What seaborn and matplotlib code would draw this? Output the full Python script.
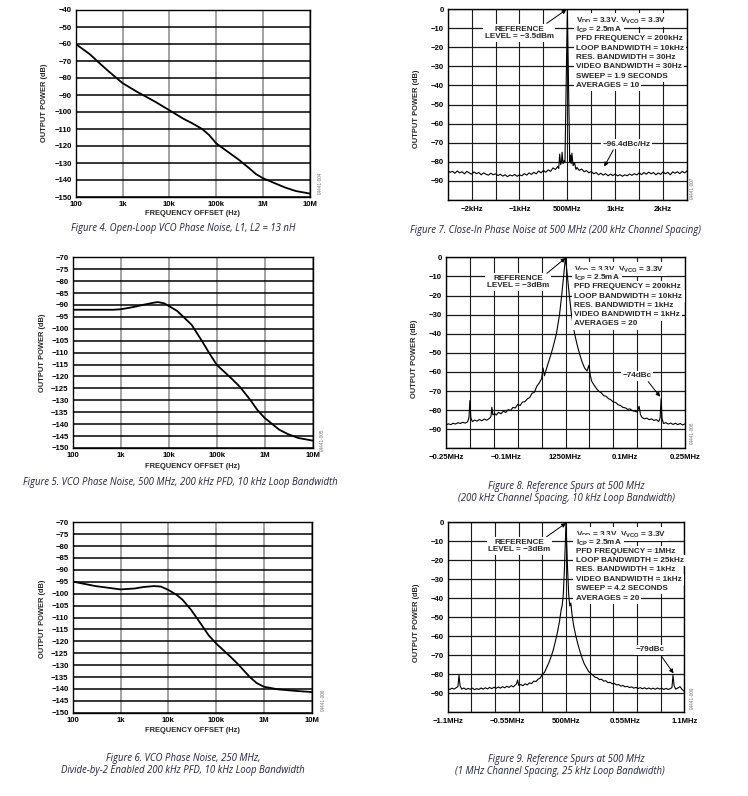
import numpy as np
import pandas as pd
import matplotlib
matplotlib.use("Agg")
import matplotlib.pyplot as plt
import matplotlib.ticker as mticker
import seaborn as sns

# ---------------- data ----------------
pn_tick_hz = [1e2, 1e3, 1e4, 1e5, 1e6, 1e7]
pn_tick_labels = ["100", "1k", "10k", "100k", "1M", "10M"]

# Figure 4: open-loop VCO phase noise
fig4_offset_hz = [100, 200, 300, 500, 1e3, 2e3, 5e3, 1e4, 2e4, 3e4, 5e4,
                  7e4, 1e5, 2e5, 3e5, 5e5, 7e5, 1e6, 2e6, 3e6, 5e6, 1e7]
fig4_level_db = [-60, -66, -70.5, -76, -83, -88, -94, -99, -104, -106.5, -110,
                 -113.5, -118.5, -124.5, -128, -133, -136.5, -139, -142.5, -144.5, -146.5, -148]

# Figure 5: VCO phase noise, 500 MHz
fig5_offset_hz = [100, 300, 700, 1e3, 1.5e3, 2e3, 3e3, 5e3, 6e3, 8e3, 1e4, 1.5e4,
                  2e4, 3e4, 5e4, 7e4, 1e5, 2e5, 3e5, 5e5, 7e5, 1e6, 2e6, 3e6, 5e6, 1e7]
fig5_level_db = [-92, -92, -92, -91.8, -91.2, -90.7, -89.9, -89.0, -88.8, -89.3, -90.4, -92.5,
                 -94.9, -98.3, -105.3, -110.2, -115.1, -120.7, -124.2, -129.8, -134.0, -137.4,
                 -142.3, -144.1, -145.8, -146.9]

# Figure 6: VCO phase noise, 250 MHz
fig6_offset_hz = [100, 300, 1e3, 2e3, 3e3, 5e3, 7e3, 1e4, 1.5e4, 2e4, 3e4,
                  5e4, 7e4, 1e5, 2e5, 3e5, 5e5, 7e5, 1e6, 2e6, 5e6, 1e7]
fig6_level_db = [-94.9, -96.8, -98.2, -97.8, -97.2, -96.8, -97.0, -98.4, -100.5, -102.6, -106.8,
                 -113.2, -117.5, -120.9, -126.5, -130.0, -134.9, -137.5, -139.1, -140.2, -140.9, -141.3]

# Figure 7: close-in phase noise (offset in kHz)
fig7_offset_khz = [
    -2.50, -2.45, -2.40, -2.35, -2.30, -2.25, -2.20, -2.15, -2.10, -2.05,
    -2.00, -1.95, -1.90, -1.85, -1.80, -1.75, -1.70, -1.65, -1.60, -1.55,
    -1.50, -1.45, -1.40, -1.35, -1.30, -1.25, -1.20, -1.15, -1.10, -1.05,
    -1.00, -0.95, -0.90, -0.85, -0.80, -0.75, -0.70, -0.65, -0.60, -0.55,
    -0.50, -0.45, -0.40, -0.35, -0.30, -0.25, -0.20,
    -0.18, -0.16, -0.14, -0.12, -0.11, -0.09, -0.07, -0.05, -0.025, 0.0,
    0.025, 0.05, 0.065, 0.08, 0.095, 0.12, 0.15, 0.18,
    0.20, 0.25, 0.30, 0.35, 0.40, 0.45, 0.50, 0.55, 0.60, 0.65,
    0.70, 0.75, 0.80, 0.85, 0.90, 0.95, 1.00, 1.05, 1.10, 1.15,
    1.20, 1.25, 1.30, 1.35, 1.40, 1.45, 1.50, 1.55, 1.60, 1.65,
    1.70, 1.75, 1.80, 1.85, 1.90, 1.95, 2.00, 2.05, 2.10, 2.15,
    2.20, 2.25, 2.30, 2.35, 2.40, 2.45, 2.50]
fig7_level_db = [
    -84.5, -85.5, -85.0, -86.0, -84.8, -85.8, -85.2, -86.3, -85.0, -85.8,
    -86.5, -85.3, -86.2, -85.6, -86.8, -85.8, -86.5, -87.0, -86.0, -86.8,
    -86.3, -87.2, -86.5, -87.5, -86.8, -87.8, -86.9, -87.4, -86.6, -87.6,
    -86.8, -87.3, -86.2, -87.0, -85.8, -86.6, -85.5, -86.3, -84.8, -85.8,
    -84.5, -85.5, -84.2, -85.0, -83.2, -84.0, -82.5,
    -83.5, -76.0, -81.5, -79.5, -75.0, -81.0, -79.5, -80.0, -40.0, 0.0,
    -40.0, -80.0, -76.5, -81.0, -75.5, -82.0, -80.5, -84.0,
    -83.0, -84.5, -83.8, -85.2, -84.6, -85.8, -85.0, -86.3, -85.6, -86.8,
    -86.0, -87.0, -86.2, -87.3, -86.5, -87.2, -86.4, -87.4, -86.7, -87.6,
    -86.8, -87.3, -86.4, -87.1, -86.2, -86.9, -85.8, -86.7, -85.6, -86.5,
    -85.4, -86.3, -85.6, -86.8, -85.8, -86.6, -85.2, -86.3, -85.5, -86.8,
    -85.3, -86.0, -85.2, -86.2, -85.0, -85.8, -84.8]

# Figure 8: reference spurs, 200 kHz spacing (offset in MHz)
fig8_offset_mhz = [
    -0.250, -0.245, -0.240, -0.235, -0.230, -0.225, -0.220, -0.215, -0.210, -0.205,
    -0.202, -0.200, -0.198, -0.195, -0.190, -0.185, -0.180, -0.175, -0.170, -0.165,
    -0.160, -0.156, -0.154, -0.152, -0.148, -0.145, -0.140, -0.135, -0.130, -0.125,
    -0.120, -0.115, -0.110, -0.105, -0.100, -0.095, -0.090, -0.085, -0.080, -0.075,
    -0.070, -0.065, -0.060, -0.055, -0.050, -0.047, -0.044, -0.040, -0.035, -0.030,
    -0.025, -0.019, -0.0125, -0.008, -0.004, 0.000,
    0.004, 0.008, 0.0125, 0.019, 0.025, 0.030, 0.035, 0.040, 0.045, 0.049,
    0.052, 0.055, 0.060, 0.065, 0.070, 0.075, 0.080, 0.085, 0.090, 0.095,
    0.100, 0.105, 0.110, 0.115, 0.120, 0.125, 0.130, 0.135, 0.140, 0.145,
    0.150, 0.154, 0.157, 0.160, 0.165, 0.170, 0.175, 0.180, 0.185, 0.190,
    0.195, 0.198, 0.200, 0.202, 0.205, 0.210, 0.215, 0.220, 0.225, 0.230,
    0.235, 0.240, 0.245, 0.250]
fig8_level_db = [
    -87.8, -87.2, -87.6, -86.9, -87.3, -86.6, -87.0, -86.4, -86.8, -86.2,
    -84.0, -75.0, -84.0, -86.0, -85.2, -85.8, -84.9, -85.6, -84.7, -85.3,
    -84.5, -83.5, -78.5, -82.5, -81.8, -82.6, -81.2, -81.9, -80.6, -81.2,
    -79.8, -80.2, -78.6, -78.9, -77.0, -77.6, -75.8, -75.6, -74.2, -73.4,
    -71.2, -70.6, -67.5, -65.8, -63.5, -58.0, -62.0, -58.5, -54.5, -50.5,
    -46.0, -40.0, -30.0, -20.0, -10.0, 0.0,
    -10.0, -20.0, -30.0, -40.0, -46.5, -51.0, -55.0, -58.0, -59.5, -56.5,
    -62.0, -65.0, -67.0, -68.8, -70.2, -71.0, -72.4, -72.8, -74.0, -74.6,
    -75.8, -76.0, -77.2, -77.6, -78.6, -78.8, -79.6, -79.4, -80.3, -80.6,
    -81.0, -78.0, -82.5, -83.8, -84.6, -84.2, -85.0, -84.6, -85.4, -85.0,
    -86.0, -84.0, -74.0, -84.5, -87.0, -86.6, -87.3, -86.8, -87.5, -86.9,
    -87.6, -87.0, -87.8, -87.2]

# Figure 9: reference spurs, 1 MHz spacing (offset in MHz)
fig9_offset_mhz = [
    -1.100, -1.080, -1.060, -1.040, -1.020, -1.005, -0.995, -0.985, -0.970, -0.950,
    -0.930, -0.910, -0.890, -0.870, -0.850, -0.830, -0.810, -0.790, -0.770, -0.750,
    -0.730, -0.710, -0.690, -0.670, -0.650, -0.630, -0.610, -0.590, -0.570, -0.550,
    -0.530, -0.510, -0.490, -0.460, -0.450, -0.440, -0.420, -0.400, -0.380, -0.360,
    -0.340, -0.320, -0.300, -0.280, -0.260, -0.240, -0.220, -0.200, -0.180, -0.160,
    -0.140, -0.120, -0.100, -0.080, -0.060, -0.045, -0.035, -0.025, -0.015, -0.007,
    0.000,
    0.007, 0.015, 0.025, 0.035, 0.045, 0.055, 0.070, 0.090, 0.110, 0.130,
    0.150, 0.170, 0.190, 0.210, 0.230, 0.250, 0.270, 0.290, 0.310, 0.330,
    0.350, 0.370, 0.390, 0.410, 0.430, 0.450, 0.470, 0.490, 0.510, 0.530,
    0.550, 0.570, 0.590, 0.610, 0.630, 0.650, 0.670, 0.690, 0.710, 0.730,
    0.750, 0.770, 0.790, 0.810, 0.830, 0.850, 0.870, 0.890, 0.910, 0.930,
    0.950, 0.970, 0.985, 0.995, 1.005, 1.020, 1.040, 1.060, 1.080, 1.100]
fig9_level_db = [
    -87.5, -88.0, -87.3, -87.8, -87.0, -86.5, -80.5, -86.0, -87.8, -87.2,
    -88.0, -87.4, -87.9, -87.3, -88.1, -87.5, -88.0, -87.2, -87.8, -87.1,
    -87.7, -86.9, -87.6, -86.8, -87.4, -86.7, -87.3, -86.5, -87.1, -86.3,
    -86.9, -86.0, -86.6, -85.0, -83.0, -85.8, -85.4, -86.0, -85.0, -85.6,
    -84.5, -84.9, -83.6, -83.8, -82.6, -82.0, -80.0, -79.0, -76.5, -74.0,
    -71.0, -67.5, -63.0, -58.0, -52.0, -46.0, -43.5, -38.0, -25.0, -12.0,
    0.0,
    -12.0, -25.0, -38.0, -44.0, -42.5, -48.0, -54.0, -59.5, -64.0, -68.0,
    -71.5, -74.5, -76.5, -78.5, -79.5, -80.5, -81.5, -81.8, -82.8, -82.6,
    -83.6, -83.4, -84.4, -84.2, -85.0, -84.8, -85.6, -85.4, -86.2, -85.9,
    -86.6, -86.3, -87.0, -86.6, -87.3, -86.9, -87.5, -87.0, -87.6, -87.1,
    -87.7, -87.2, -87.8, -87.3, -87.9, -87.2, -87.8, -87.3, -88.0, -87.4,
    -88.0, -87.5, -87.0, -80.5, -86.0, -87.8, -87.2, -86.5, -88.0, -89.0]

fig7_ticks = [-2, -1, 0, 1, 2]
fig7_tick_labels = ["\u22122kHz", "\u22121kHz", "500MHz", "1kHz", "2kHz"]
fig8_ticks = [-0.25, -0.125, 0, 0.125, 0.25]
fig8_tick_labels = ["\u22120.25MHz", "\u22120.1MHz", "1250MHz", "0.1MHz", "0.25MHz"]
fig9_ticks = [-1.1, -0.55, 0, 0.55, 1.1]
fig9_tick_labels = ["\u22121.1MHz", "\u22120.55MHz", "500MHz", "0.55MHz", "1.1MHz"]

fig7_settings = ["V$_{DD}$ = 3.3V, V$_{VCO}$ = 3.3V", "I$_{CP}$ = 2.5mA", "PFD FREQUENCY = 200kHz",
                 "LOOP BANDWIDTH = 10kHz", "RES. BANDWIDTH = 30Hz", "VIDEO BANDWIDTH = 30Hz",
                 "SWEEP = 1.9 SECONDS", "AVERAGES = 10"]
fig8_settings = ["V$_{DD}$ = 3.3V, V$_{VCO}$ = 3.3V", "I$_{CP}$ = 2.5mA", "PFD FREQUENCY = 200kHz",
                 "LOOP BANDWIDTH = 10kHz", "RES. BANDWIDTH = 1kHz", "VIDEO BANDWIDTH = 1kHz",
                 "AVERAGES = 20"]
fig9_settings = ["V$_{DD}$ = 3.3V, V$_{VCO}$ = 3.3V", "I$_{CP}$ = 2.5mA", "PFD FREQUENCY = 1MHz",
                 "LOOP BANDWIDTH = 25kHz", "RES. BANDWIDTH = 1kHz", "VIDEO BANDWIDTH = 1kHz",
                 "SWEEP = 4.2 SECONDS", "AVERAGES = 20"]

for a, b in [(fig4_offset_hz, fig4_level_db), (fig5_offset_hz, fig5_level_db),
             (fig6_offset_hz, fig6_level_db), (fig7_offset_khz, fig7_level_db),
             (fig8_offset_mhz, fig8_level_db), (fig9_offset_mhz, fig9_level_db)]:
    assert len(a) == len(b), (len(a), len(b))

# ---------------- style ----------------
sns.set_theme(style="white")
plt.rcParams["font.family"] = ["Liberation Sans", "DejaVu Sans"]
plt.rcParams["mathtext.fontset"] = "custom"
plt.rcParams["mathtext.rm"] = "Liberation Sans:bold"
plt.rcParams["mathtext.it"] = "Liberation Sans:bold"
plt.rcParams["mathtext.bf"] = "Liberation Sans:bold"
plt.rcParams["mathtext.default"] = "rm"

W, H = 748, 796
fig = plt.figure(figsize=(W / 100, H / 100), dpi=100)
fig.patch.set_facecolor("white")

TICK_FS = 5.6
LBL_FS = 5.4
ANN_FS = 5.9
CAP_FS = 6.9
CAP_COLOR = "#24223e"
BOLD = dict(fontweight="bold", family=["Liberation Sans", "DejaVu Sans"], fontsize=TICK_FS)
CAP = dict(family=["Open Sans", "DejaVu Sans"], style="italic", fontsize=CAP_FS,
           color=CAP_COLOR, ha="center", va="center")


def add_ax(x0, y0, x1, y1):
    return fig.add_axes([x0 / W, 1 - y1 / H, (x1 - x0) / W, (y1 - y0) / H])


def ftext(x, y, s, **kw):
    fig.text(x / W, 1 - y / H, s, **kw)


def fmt_db(v):
    return f"\u2212{abs(int(round(v)))}" if v < 0 else f"{int(round(v))}"


def frame(ax):
    for s in ax.spines.values():
        s.set_visible(True)
        s.set_color("black")
        s.set_linewidth(1.0)
        s.set_zorder(4)
    ax.tick_params(which="both", length=0, colors="black")
    ax.set_xlabel("")
    ax.set_ylabel("")
    ax.set_facecolor("white")


def phase_panel(rect, freq, level, ytop, ystep):
    ax = add_ax(*rect)
    df = pd.DataFrame({"offset_hz": freq, "level_db": level})
    sns.lineplot(data=df, x="offset_hz", y="level_db", ax=ax, color="black",
                 lw=1.3, estimator=None, sort=False, zorder=3)
    ax.set_xscale("log")
    ax.set_xlim(100, 1e7)
    ax.set_ylim(-150, ytop)
    ax.set_xticks(pn_tick_hz)
    ax.xaxis.set_minor_locator(mticker.NullLocator())
    ax.set_xticklabels(pn_tick_labels, **BOLD)
    yt = np.arange(-150, ytop + 1, ystep)
    ax.set_yticks(yt)
    ax.set_yticklabels([fmt_db(v) for v in yt], **BOLD)
    ax.xaxis.grid(True, color="#8a8a8a", lw=1.1)
    ax.yaxis.grid(True, color="black", lw=1.1)
    ax.set_axisbelow(True)
    frame(ax)
    ax.tick_params(axis="y", pad=3)
    ax.tick_params(axis="x", pad=3)
    return ax


def spectrum_panel(rect, x, y, xlim, grid_x, ticks, tick_labels):
    ax = add_ax(*rect)
    df = pd.DataFrame({"offset": x, "level_db": y})
    sns.lineplot(data=df, x="offset", y="level_db", ax=ax, color="black",
                 lw=0.8, estimator=None, sort=False, zorder=3)
    ax.set_xlim(*xlim)
    ax.set_ylim(-100, 0)
    ax.xaxis.remove_overlapping_locs = False
    ax.yaxis.remove_overlapping_locs = False
    ax.set_xticks(ticks)
    ax.set_xticklabels(tick_labels, **BOLD)
    ax.set_xticks(grid_x, minor=True)
    yt = np.arange(-90, 1, 10)
    ax.set_yticks(yt)
    ax.set_yticklabels([fmt_db(v) for v in yt], **BOLD)
    ax.set_yticks(np.arange(-100, 1, 10), minor=True)
    ax.grid(False, which="major")
    ax.xaxis.grid(True, which="minor", color="#1a1a1a", lw=0.8)
    ax.yaxis.grid(True, which="minor", color="#1a1a1a", lw=0.9)
    ax.set_axisbelow(True)
    frame(ax)
    ax.tick_params(axis="y", pad=3)
    ax.tick_params(axis="x", pad=4)
    return ax


WHITE = dict(facecolor="white", edgecolor="none", pad=1.2)


def ann_text(ax, x, y, s, ha="center"):
    ax.text(x, y, s, ha=ha, va="center", fontsize=ANN_FS, fontweight="bold",
            bbox=WHITE, zorder=6, linespacing=1.05)


def arrow(ax, tail, head):
    ax.annotate("", xy=head, xytext=tail,
                arrowprops=dict(arrowstyle="-|>", color="black", lw=0.7,
                                mutation_scale=6, shrinkA=0, shrinkB=0), zorder=7)


def settings_block(ax, x, ys, lines):
    for yy, s in zip(ys, lines):
        ax.text(x, yy, s, ha="left", va="center", fontsize=ANN_FS, fontweight="bold",
                bbox=dict(facecolor="white", edgecolor="none", pad=1.6), zorder=6)


# ---------------- left column ----------------
phase_panel((75.7, 10, 310, 197), fig4_offset_hz, fig4_level_db, -40, 10)
ftext(45, 102.5, "OUTPUT POWER (dB)", rotation=90, ha="center", va="center",
      fontsize=LBL_FS, fontweight="bold")
ftext(192, 213.3, "FREQUENCY OFFSET (Hz)", ha="center", va="center", fontsize=LBL_FS, fontweight="bold")
ftext(320, 183, "04441-004", rotation=90, ha="center", va="center", fontsize=3.4, color="#777777")
ftext(183, 228.3, "Figure 4. Open-Loop VCO Phase Noise, L1, L2 = 13 nH", **CAP)

phase_panel((72.7, 257.3, 312.7, 448), fig5_offset_hz, fig5_level_db, -70, 5)
ftext(42.3, 352.5, "OUTPUT POWER (dB)", rotation=90, ha="center", va="center",
      fontsize=LBL_FS, fontweight="bold")
ftext(192, 466, "FREQUENCY OFFSET (Hz)", ha="center", va="center", fontsize=LBL_FS, fontweight="bold")
ftext(322.7, 440, "04441-005", rotation=90, ha="center", va="center", fontsize=3.4, color="#777777")
ftext(180, 483, "Figure 5. VCO Phase Noise, 500 MHz, 200 kHz PFD, 10 kHz Loop Bandwidth", **CAP)

phase_panel((72.7, 522.3, 311.7, 712.7), fig6_offset_hz, fig6_level_db, -70, 5)
ftext(42.3, 619, "OUTPUT POWER (dB)", rotation=90, ha="center", va="center",
      fontsize=LBL_FS, fontweight="bold")
ftext(192, 731, "FREQUENCY OFFSET (Hz)", ha="center", va="center", fontsize=LBL_FS, fontweight="bold")
ftext(323.3, 700, "04441-006", rotation=90, ha="center", va="center", fontsize=3.4, color="#777777")
ftext(183, 758.3, "Figure 6. VCO Phase Noise, 250 MHz,", **CAP)
ftext(183, 770.7, "Divide-by-2 Enabled 200 kHz PFD, 10 kHz Loop Bandwidth", **CAP)

# ---------------- right column ----------------
ax7 = spectrum_panel((447.7, 9, 687, 200), fig7_offset_khz, fig7_level_db, (-2.5, 2.5),
                     np.arange(-2.5, 2.51, 0.5), fig7_ticks, fig7_tick_labels)
ann_text(ax7, -1.01, -12.6, "REFERENCE\nLEVEL = \u22123.5dBm")
arrow(ax7, (-0.43, -7.5), (-0.02, -0.3))
settings_block(ax7, 0.18, [-5.8, -10.7, -15.6, -20.5, -25.4, -30.3, -35.2, -40.2], fig7_settings)
ann_text(ax7, 1.24, -70.8, "\u221296.4dBc/Hz")
arrow(ax7, (0.96, -73.8), (0.77, -82.5))
ftext(416.7, 109, "OUTPUT POWER (dB)", rotation=90, ha="center", va="center",
      fontsize=LBL_FS, fontweight="bold")
ftext(692.7, 188, "04441-007", rotation=90, ha="center", va="center", fontsize=3.4, color="#777777")
ftext(555, 230, "Figure 7. Close-In Phase Noise at 500 MHz (200 kHz Channel Spacing)", **CAP)

ax8 = spectrum_panel((446, 257.3, 685, 448.3), fig8_offset_mhz, fig8_level_db, (-0.25, 0.25),
                     np.arange(-0.25, 0.251, 0.05), fig8_ticks, fig8_tick_labels)
ann_text(ax8, -0.099, -12.8, "REFERENCE\nLEVEL = \u22123dBm")
arrow(ax8, (-0.039, -8.4), (0.0, -0.4))
settings_block(ax8, 0.0184, [-6.1, -10.7, -15.4, -20.3, -25.3, -30.2, -34.9], fig8_settings)
ann_text(ax8, 0.149, -62.1, "\u221274dBc")
arrow(ax8, (0.173, -65.1), (0.198, -73.0))
ftext(415, 359, "OUTPUT POWER (dB)", rotation=90, ha="center", va="center",
      fontsize=LBL_FS, fontweight="bold")
ftext(692, 433, "04441-008", rotation=90, ha="center", va="center", fontsize=3.4, color="#777777")
ftext(566, 486.7, "Figure 8. Reference Spurs at 500 MHz", **CAP)
ftext(566, 499, "(200 kHz Channel Spacing, 10 kHz Loop Bandwidth)", **CAP)

ax9 = spectrum_panel((447.7, 522.3, 684.3, 712.3), fig9_offset_mhz, fig9_level_db, (-1.1, 1.1),
                     np.arange(-1.1, 1.101, 0.22), fig9_ticks, fig9_tick_labels)
ann_text(ax9, -0.434, -12.5, "REFERENCE\nLEVEL = \u22123dBm")
arrow(ax9, (-0.18, -7.6), (0.0, -0.4))
settings_block(ax9, 0.09, [-6.2, -10.7, -15.3, -20.2, -25.1, -30.0, -34.9, -40.0], fig9_settings)
ann_text(ax9, 0.78, -67.2, "\u221279dBc")
arrow(ax9, (0.89, -70.7), (1.0, -79.5))
ftext(416.7, 622.5, "OUTPUT POWER (dB)", rotation=90, ha="center", va="center",
      fontsize=LBL_FS, fontweight="bold")
ftext(692.7, 698, "04441-009", rotation=90, ha="center", va="center", fontsize=3.4, color="#777777")
ftext(566, 759.3, "Figure 9. Reference Spurs at 500 MHz", **CAP)
ftext(560, 771.5, "(1 MHz Channel Spacing, 25 kHz Loop Bandwidth)", **CAP)

fig.savefig("out.png", dpi=100, facecolor="white")
